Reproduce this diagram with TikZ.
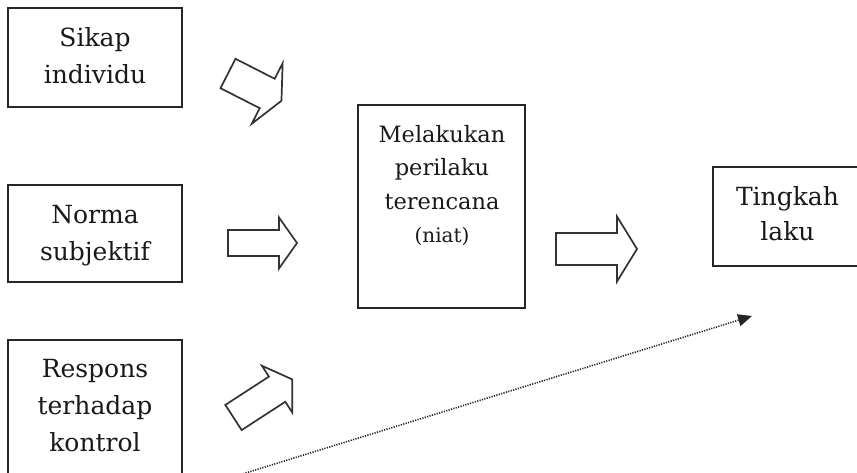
\documentclass[tikz,border=0pt]{standalone}
\usepackage{fontspec}
\setmainfont{DejaVu Serif}
\usetikzlibrary{arrows.meta}
\tikzset{
  boxnode/.style={draw=black!85, line width=1.7pt, rectangle, inner sep=0pt},
  txt/.style={anchor=north, inner sep=0pt, align=center, text=black!90, font=\fontsize{25}{37}\selectfont},
  blockarr/.style={draw=black!80, line width=1.7pt, line join=miter, fill=white},
}
\newcommand\blockarrow[7]{%
  \begin{scope}[shift={(#1,#2)}, rotate=#3]
    \draw[blockarr] (0,-#4) -- (#5,-#4) -- (#5,-#7) -- (#6,0) -- (#5,#7) -- (#5,#4) -- (0,#4) -- cycle;
  \end{scope}}
\begin{document}
\begin{tikzpicture}[x=1pt, y=-1pt]
  \useasboundingbox (0,0) rectangle (857,473);
  \clip (0,0) rectangle (857,473);
  \fill[white] (0,0) rectangle (857,473);

  % boxes
  \node[boxnode, minimum width=174pt, minimum height=99pt] (sikapbox) at (95,57.5) {};
  \node[boxnode, minimum width=174pt, minimum height=97pt] (normabox) at (95,233.5) {};
  \node[boxnode, minimum width=174pt, minimum height=160pt] (responsbox) at (95,420) {};
  \node[boxnode, minimum width=167pt, minimum height=203pt] (niatbox) at (441.5,206.5) {};
  \node[boxnode, minimum width=149pt, minimum height=99pt] (tingkahbox) at (787.5,216.5) {};

  % texts
  \node[txt] (sikaptxt) at (95,27) {Sikap\\individu};
  \node[txt] (normatxt) at (95,205) {Norma\\subjektif};
  \node[txt] (responstxt) at (95,359) {Respons\\terhadap\\kontrol};
  \node[txt, font=\fontsize{22.5}{33.5}\selectfont] (niattxt) at (442,125)
    {Melakukan\\perilaku\\terencana\\{\fontsize{20}{33.5}\selectfont (niat)}};
  \node[txt, font=\fontsize{25}{35}\selectfont] (tingkahtxt) at (787.5,186) {Tingkah\\laku};

  % block arrows: x y angle halfshaft shaftlen totallen halfhead
  \blockarrow{228}{73.5}{-27}{16.5}{44}{60}{34}
  \blockarrow{228}{243}{0}{13}{51}{69}{25.5}
  \blockarrow{233.5}{417.5}{33}{15}{52}{70}{28}
  \blockarrow{556}{249}{0}{16}{61}{81}{32.5}

  % dotted arrow
  \coordinate (dstart) at (236,476);
  \coordinate (dend) at (752,316);
  \draw[line width=1.6pt, black!85, dash pattern=on 1.2pt off 1.3pt,
        -{Triangle[length=14pt,width=12pt]}] (dstart) -- (dend);
\end{tikzpicture}
\end{document}
